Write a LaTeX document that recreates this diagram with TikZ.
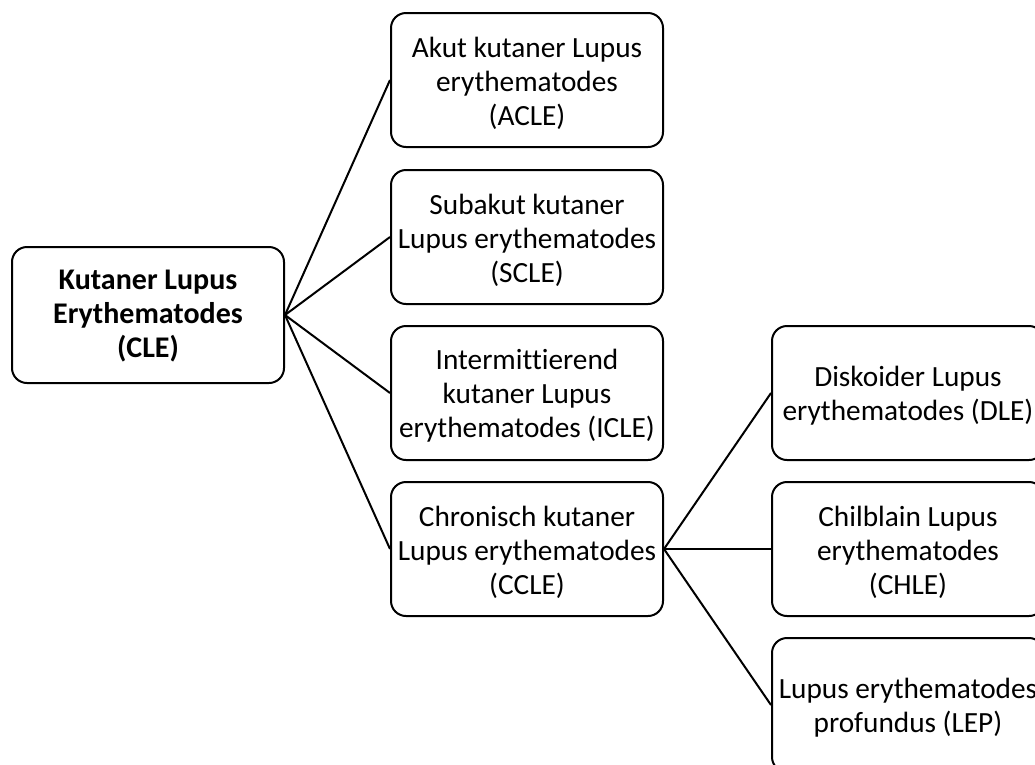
\documentclass[tikz,border=0pt]{standalone}
\usepackage{fontspec}
\setmainfont[Ligatures=NoCommon]{Carlito}
\begin{document}
\begin{tikzpicture}[x=1pt,y=-1pt,
  box/.style={draw=black, line width=2pt, rounded corners=15pt, minimum width=272pt, minimum height=134pt, inner sep=0pt},
  txt/.style={inner sep=0pt, align=center, font=\fontsize{29.3}{34}\selectfont},
  link/.style={draw=black, line width=2pt}]
\useasboundingbox (0,0) rectangle (1035,764);
\clip (0,0) rectangle (1035,764);
\fill[white] (0,0) rectangle (1035,764);
\node[box, minimum height=136pt] (cle) at (148,315) {};
\node[box] (acle) at (527,80) {};
\node[box] (scle) at (527,237) {};
\node[box] (icle) at (527,393) {};
\node[box] (ccle) at (527,549) {};
\node[box] (dle) at (908,393) {};
\node[box] (chle) at (908,549) {};
\node[box] (lep) at (908,705) {};
\node[txt, font=\fontsize{30}{34}\selectfont\bfseries] (cle-t) at ([yshift=-1pt]cle.center) {Kutaner Lupus\\Erythematodes\\(CLE)};
\node[txt] (acle-t) at ([yshift=-3pt]acle.center) {Akut kutaner Lupus\\erythematodes\\(ACLE)};
\node[txt] (scle-t) at ([yshift=-3pt]scle.center) {Subakut kutaner\\Lupus erythematodes\\(SCLE)};
\node[txt] (icle-t) at ([yshift=-3pt]icle.center) {Intermittierend\\kutaner Lupus\\erythematodes (ICLE)};
\node[txt] (ccle-t) at ([yshift=-3pt]ccle.center) {Chronisch kutaner\\Lupus erythematodes\\(CCLE)};
\node[txt] (dle-t) at ([yshift=-3pt]dle.center) {Diskoider Lupus\\erythematodes (DLE)};
\node[txt] (chle-t) at ([yshift=-3pt]chle.center) {Chilblain Lupus\\erythematodes\\(CHLE)};
\node[txt] (lep-t) at ([yshift=-3pt]lep.center) {Lupus erythematodes\\profundus (LEP)};
\draw[link] (cle.east) -- (acle.west);
\draw[link] (cle.east) -- (scle.west);
\draw[link] (cle.east) -- (icle.west);
\draw[link] (cle.east) -- (ccle.west);
\draw[link] (ccle.east) -- (dle.west);
\draw[link] (ccle.east) -- (chle.west);
\draw[link] (ccle.east) -- (lep.west);
\end{tikzpicture}
\end{document}
